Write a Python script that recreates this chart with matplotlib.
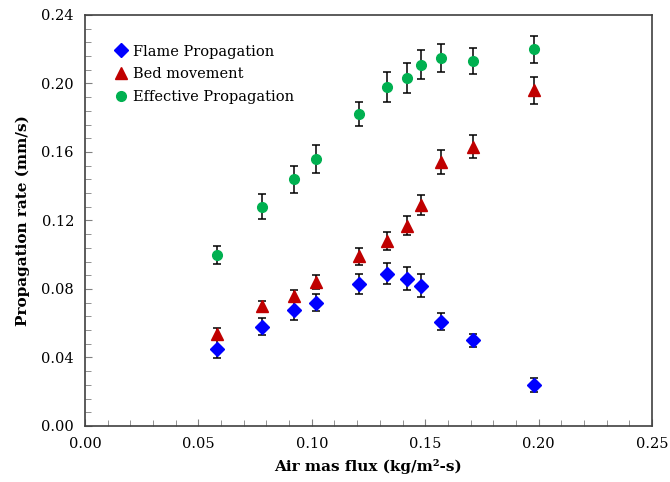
import matplotlib.pyplot as plt
from matplotlib.ticker import MultipleLocator, FormatStrFormatter

plt.rcParams['font.family'] = ['DejaVu Serif']

air_flux = [0.058, 0.078, 0.092, 0.102, 0.121, 0.133, 0.142, 0.148, 0.157, 0.171, 0.198]

flame = [0.045, 0.058, 0.068, 0.072, 0.083, 0.089, 0.086, 0.082, 0.061, 0.050, 0.024]
flame_err = [0.0055, 0.005, 0.006, 0.005, 0.006, 0.006, 0.0068, 0.0067, 0.005, 0.004, 0.004]

bed = [0.054, 0.070, 0.076, 0.084, 0.099, 0.108, 0.117, 0.129, 0.154, 0.163, 0.196]
bed_err = [0.003, 0.003, 0.0033, 0.004, 0.005, 0.0054, 0.0056, 0.0057, 0.0069, 0.0067, 0.0078]

effective = [0.100, 0.128, 0.144, 0.156, 0.182, 0.198, 0.203, 0.211, 0.215, 0.213, 0.220]
effective_err = [0.0053, 0.0072, 0.008, 0.008, 0.007, 0.0088, 0.0088, 0.0086, 0.0082, 0.0076, 0.008]

fig = plt.figure(figsize=(6.7, 4.82), dpi=100)
ax = fig.add_axes([0.1269, 0.1162, 0.8462, 0.8527])

err_kw = dict(ls='none', ecolor='black', elinewidth=1.1, capsize=3, capthick=1.1)
ax.errorbar(air_flux, flame, yerr=flame_err, marker='D', ms=7, color='#0000FF',
            label='Flame Propagation', **err_kw)
ax.errorbar(air_flux, bed, yerr=bed_err, marker='^', ms=8, color='#C00000',
            label='Bed movement', **err_kw)
ax.errorbar(air_flux, effective, yerr=effective_err, marker='o', ms=7, color='#00B050',
            label='Effective Propagation', **err_kw)

ax.set_xlim(0, 0.25)
ax.set_ylim(0, 0.24)
ax.xaxis.set_major_locator(MultipleLocator(0.05))
ax.xaxis.set_minor_locator(MultipleLocator(0.01))
ax.yaxis.set_major_locator(MultipleLocator(0.04))
ax.yaxis.set_minor_locator(MultipleLocator(0.008))
ax.xaxis.set_major_formatter(FormatStrFormatter('%.2f'))
ax.yaxis.set_major_formatter(FormatStrFormatter('%.2f'))
ax.tick_params(which='both', direction='in', color='#808080', labelsize=10.5, pad=8)
ax.tick_params(which='major', length=5)
ax.tick_params(which='minor', length=4)
for s in ax.spines.values():
    s.set_color('#404040')
    s.set_linewidth(1.2)

ax.set_xlabel('Air mas flux (kg/m²-s)', fontsize=11, fontweight='bold', labelpad=6)
ax.set_ylabel('Propagation rate (mm/s)', fontsize=11, fontweight='bold', labelpad=8)

handles, labels = ax.get_legend_handles_labels()
handles = [h[0] for h in handles]
ax.legend(handles, labels, loc='upper left', bbox_to_anchor=(0.025, 0.96), frameon=False,
          fontsize=10.5, handletextpad=0.2, handlelength=1.2, labelspacing=0.6)

fig.savefig('out.png', dpi=100)
